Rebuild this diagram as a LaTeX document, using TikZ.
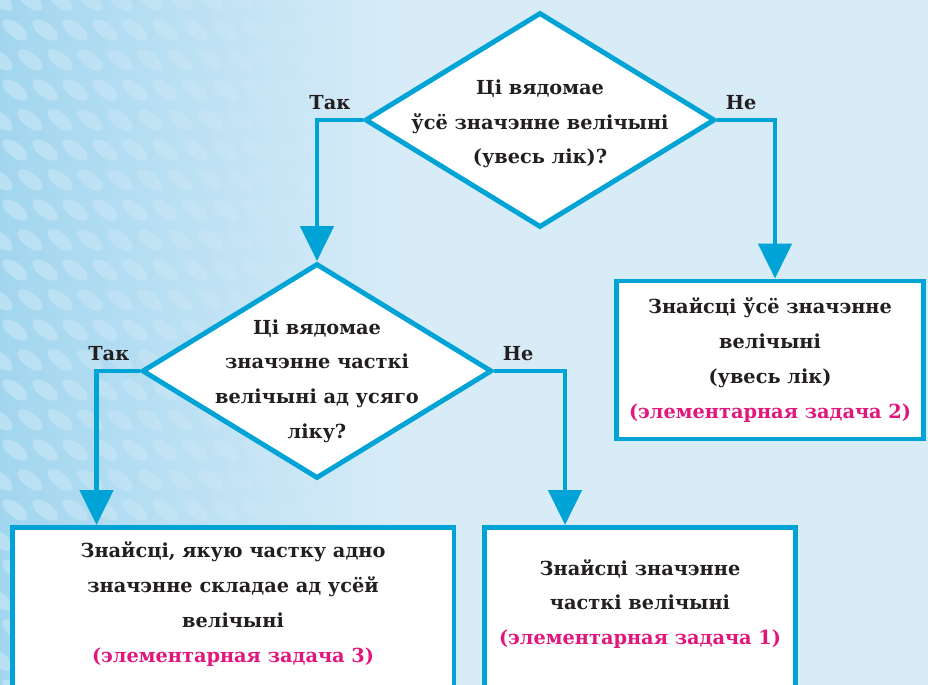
\documentclass[tikz,border=0pt]{standalone}
\usepackage{fontspec}
\setmainfont{DejaVu Serif}
\usetikzlibrary{shapes.geometric,arrows.meta,positioning}

\definecolor{lineblue}{HTML}{00A3D6}
\definecolor{bgblue}{HTML}{D8ECF8}
\definecolor{patblue}{HTML}{A2D6EF}
\definecolor{taskpink}{HTML}{E2177E}
\definecolor{inkblack}{HTML}{231F20}

\tikzset{
  question/.style={diamond,draw=lineblue,fill=white,line width=2.8pt,
    minimum width=7cm,minimum height=4.3cm,inner sep=0pt},
  qtext/.style={align=center,text=inkblack,
    font=\fontsize{11pt}{19.8pt}\selectfont\bfseries},
  taskbox/.style={rectangle,draw=lineblue,fill=white,line width=2.8pt,
    align=center,text=inkblack,font=\fontsize{11pt}{19.8pt}\selectfont\bfseries},
  answer/.style={text=inkblack,inner sep=0pt,
    font=\fontsize{11pt}{13pt}\selectfont\bfseries},
  flow/.style={draw=lineblue,line width=2.8pt,
    -{Triangle[width=0.66cm,length=0.7cm]}}
}
\newcommand{\elemtask}[1]{\textcolor{taskpink}{(элементарная задача #1)}}

\begin{document}
\begin{tikzpicture}[x=0.02cm,y=-0.02cm]
\clip (0,0) rectangle (928,685);
% background with the pattern on the left
\fill[bgblue] (0,0) rectangle (928,685);
\shade[left color=patblue,right color=bgblue] (0,0) rectangle (400,685);
\foreach \i [evaluate=\i as \opac using 0.26*(1-\i/11)] in {0,...,10}
  \foreach \j in {0,...,23}
    \fill[white,opacity=\opac,rotate around={-38:({\i*30+mod(\j,2)*15},\j*30)}]
      ({\i*30+mod(\j,2)*15},\j*30) ellipse (0.3cm and 0.14cm);

% questions
\node[question] (top) at (540,120) {};
\node[qtext] (topq) at (540,124) {Ці вядомае\\ўсё значэнне велічыні\\(увесь лік)?};
\node[question] (part) at (317,371) {};
\node[qtext] (partq) at (317,381) {Ці вядомае\\значэнне часткі\\велічыні ад усяго\\ліку?};

% tasks
\node[taskbox,minimum width=6.14cm,minimum height=3.16cm] (whole) at (770,360)
  {Знайсці ўсё значэнне\\велічыні\\(увесь лік)\\\elemtask{2}};
\node[taskbox,minimum width=8.84cm,minimum height=4.4cm,anchor=north] (share) at (233,525) {};
\node[qtext] (sharet) at (233,604)
  {Знайсці, якую частку адно\\значэнне складае ад усёй\\велічыні\\\elemtask{3}};
\node[taskbox,minimum width=6.22cm,minimum height=4.4cm,anchor=north] (value) at (640,525) {};
\node[qtext] (valuet) at (640,604)
  {Знайсці значэнне\\часткі велічыні\\\elemtask{1}};

% answers
\node[answer,above left=0.2cm and 0.24cm of top.west] (topyes) {Так};
\node[answer,above right=0.2cm and 0.16cm of top.east] (topno) {Не};
\node[answer,above left=0.2cm and 0.2cm of part.west] (partyes) {Так};
\node[answer,above right=0.2cm and 0.16cm of part.east] (partno) {Не};

% arrows
\draw[flow] (top.west) -| (part.north);
\draw[flow] (top.east) -| ([xshift=0.1cm]whole.north);
\draw[flow] (part.west) -| ([xshift=-2.73cm]share.north);
\draw[flow] (part.east) -| ([xshift=-1.5cm]value.north);
\end{tikzpicture}
\end{document}
